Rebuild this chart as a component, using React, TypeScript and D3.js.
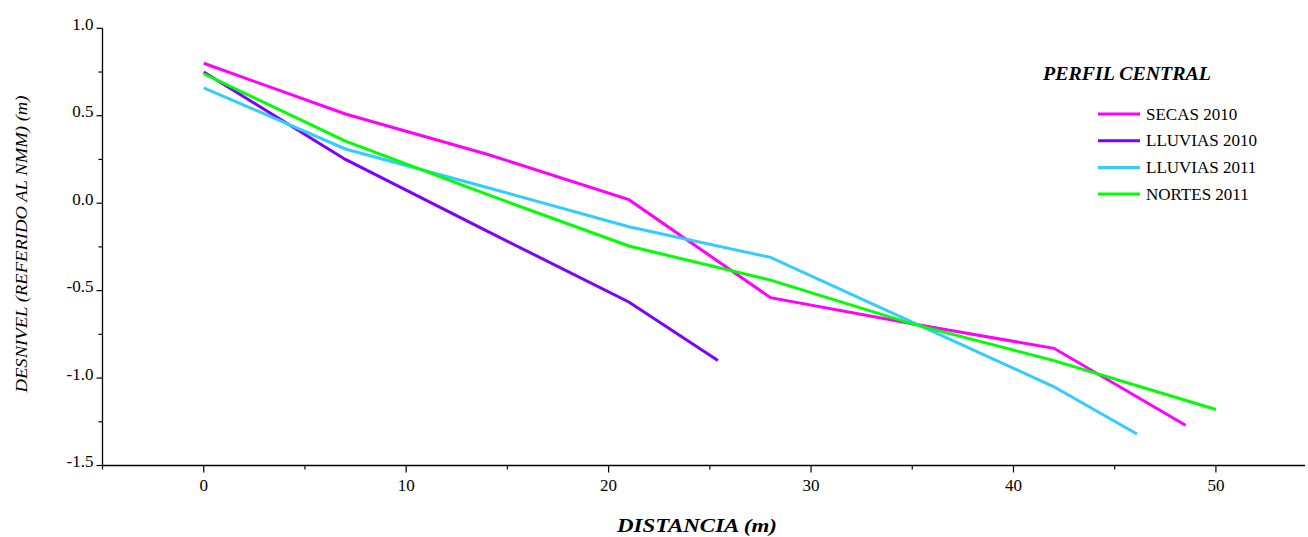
import React from "react";
import * as d3 from "d3";

const W = 1308;
const H = 537;

const seriesNames = ["SECAS 2010", "LLUVIAS 2010", "LLUVIAS 2011", "NORTES 2011"];
const seriesColors = ["#FF00FF", "#7F00FF", "#33CCFF", "#00FF00"];

const secas2010X = [0, 7, 14, 21, 28, 35, 42, 48.5];
const secas2010Y = [0.8, 0.51, 0.28, 0.02, -0.54, -0.69, -0.83, -1.27];

const lluvias2010X = [0, 7, 14, 21, 25.4];
const lluvias2010Y = [0.75, 0.25, -0.16, -0.565, -0.9];

const lluvias2011X = [0, 7, 14, 21, 28, 35, 42, 46.1];
const lluvias2011Y = [0.66, 0.31, 0.09, -0.135, -0.31, -0.68, -1.05, -1.32];

const nortes2011X = [0, 7, 14, 21, 28, 35, 42, 50];
const nortes2011Y = [0.74, 0.355, 0.05, -0.245, -0.44, -0.69, -0.9, -1.18];

const xTicks = [0, 10, 20, 30, 40, 50];
const xMinorTicks = [-5, 5, 15, 25, 35, 45];
const yTicks = [1.0, 0.5, 0.0, -0.5, -1.0, -1.5];
const yMinorTicks = [0.75, 0.25, -0.25, -0.75, -1.25];

const FONT = "Liberation Serif, DejaVu Serif, Times New Roman, serif";

export default function App() {
  const x = d3.scaleLinear().domain([-5, 54.4]).range([102.5, 1305]);
  const y = d3.scaleLinear().domain([-1.5, 1.0]).range([465.5, 28.3]);

  const data = [
    { xs: secas2010X, ys: secas2010Y },
    { xs: lluvias2010X, ys: lluvias2010Y },
    { xs: lluvias2011X, ys: lluvias2011Y },
    { xs: nortes2011X, ys: nortes2011Y },
  ];

  const line = d3
    .line<[number, number]>()
    .x((d) => x(d[0]))
    .y((d) => y(d[1]));

  const x0 = x.range()[0];
  const yBase = y.range()[0];

  const legendX = 1098;
  const legendY0 = 114;
  const legendStep = 26.7;

  const txt = { fontFamily: FONT } as React.CSSProperties;

  return (
    <div style={{ position: "absolute", left: 0, top: 0 }}>
      <svg width={W} height={H} style={{ display: "block", background: "#fff", fontFamily: FONT }}>
        {data.map((s, i) => (
          <path
            key={i}
            d={line(s.xs.map((v, j) => [v, s.ys[j]] as [number, number])) || ""}
            fill="none"
            stroke={seriesColors[i]}
            strokeWidth={3}
            strokeLinejoin="miter"
          />
        ))}

        <line x1={x0} x2={x0} y1={y(1.0)} y2={yBase} stroke="#000" strokeWidth={1.3} />
        <line x1={x0} x2={x.range()[1]} y1={yBase} y2={yBase} stroke="#000" strokeWidth={1.3} />

        {yTicks.map((t) => (
          <g key={"yt" + t}>
            <line x1={x0 - 6} x2={x0} y1={y(t)} y2={y(t)} stroke="#000" strokeWidth={1.2} />
            <text x={x0 - 9} y={y(t)} dy="0.1em" textAnchor="end" style={{ ...txt, fontSize: 17 }} fill="#000">
              {t.toFixed(1)}
            </text>
          </g>
        ))}
        {yMinorTicks.map((t) => (
          <line key={"ym" + t} x1={x0 - 4} x2={x0} y1={y(t)} y2={y(t)} stroke="#000" strokeWidth={1.2} />
        ))}

        {xTicks.map((t) => (
          <g key={"xt" + t}>
            <line x1={x(t)} x2={x(t)} y1={yBase} y2={yBase + 7} stroke="#000" strokeWidth={1.2} />
            <text x={x(t)} y={yBase + 25} textAnchor="middle" style={{ ...txt, fontSize: 17 }} fill="#000">
              {t}
            </text>
          </g>
        ))}
        {xMinorTicks.map((t) => (
          <line key={"xm" + t} x1={x(t)} x2={x(t)} y1={yBase} y2={yBase + 4} stroke="#000" strokeWidth={1.2} />
        ))}

        <text
          x={697}
          y={532}
          textAnchor="middle"
          style={{ ...txt, fontSize: 18, fontWeight: "bold", fontStyle: "italic" }}
          fill="#000"
          textLength={160}
          lengthAdjust="spacingAndGlyphs"
        >
          DISTANCIA (m)
        </text>
        <text
          transform="translate(27,244) rotate(-90)"
          textAnchor="middle"
          style={{ ...txt, fontSize: 17, fontStyle: "italic" }}
          fill="#000"
          textLength={297}
          lengthAdjust="spacingAndGlyphs"
        >
          DESNIVEL (REFERIDO AL NMM) (m)
        </text>

        <text
          x={1043}
          y={80}
          style={{ ...txt, fontSize: 18, fontWeight: "bold", fontStyle: "italic" }}
          fill="#000"
          textLength={168}
          lengthAdjust="spacingAndGlyphs"
        >
          PERFIL CENTRAL
        </text>
        {seriesNames.map((n, i) => (
          <g key={n}>
            <line
              x1={legendX}
              x2={legendX + 42}
              y1={legendY0 + i * legendStep}
              y2={legendY0 + i * legendStep}
              stroke={seriesColors[i]}
              strokeWidth={3}
            />
            <text
              x={legendX + 48}
              y={legendY0 + i * legendStep}
              dy="0.33em"
              style={{ ...txt, fontSize: 17 }}
              fill="#000"
            >
              {n}
            </text>
          </g>
        ))}
      </svg>
    </div>
  );
}
